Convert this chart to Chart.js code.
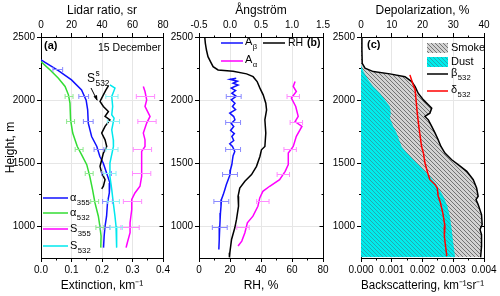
<!DOCTYPE html>
<html>
<head>
<meta charset="utf-8">
<script src="https://cdn.jsdelivr.net/npm/chart.js@4.4.0/dist/chart.umd.min.js"></script>
<style>
  body { margin: 0; background: #fff; width: 500px; height: 296px; position: relative; overflow: hidden; }
  canvas { position: absolute; top: 0; }
</style>
</head>
<body>
<canvas id="panelA" width="180" height="296" style="left:0px"></canvas>
<canvas id="panelB" width="180" height="296" style="left:160px"></canvas>
<canvas id="panelC" width="178" height="296" style="left:322px"></canvas>
<script>
// ---- tick labels ----
const heightTicks = [1000, 1500, 2000, 2500];
const extTicks = [0, 0.1, 0.2, 0.3, 0.4];
const lidarTicks = [0, 20, 40, 60, 80];
const rhTicks = [0, 20, 40, 60, 80];
const angTicks = [-0.5, 0, 0.5, 1.0, 1.5];
const bscTicks = [0, 0.001, 0.002, 0.003, 0.004];
const depTicks = [0, 10, 20, 30, 40];

// ---- panel (a): extinction and lidar ratio ----
const a355H = [2318, 2234, 2160, 2081, 2000, 1923, 1818, 1712, 1633, 1554, 1502, 1423, 1344, 1265, 1186, 1081, 1002, 923, 832];
const a355 = [0, 0.057, 0.10, 0.133, 0.148, 0.153, 0.155, 0.166, 0.183, 0.193, 0.204, 0.215, 0.226, 0.224, 0.218, 0.215, 0.21, 0.207, 0.205];
const a532H = [2305, 2239, 2174, 2108, 2042, 1976, 1844, 1739, 1633, 1568, 1489, 1396, 1291, 1186, 1081, 1002, 923, 832];
const a532 = [0, 0.03, 0.057, 0.079, 0.09, 0.095, 0.097, 0.104, 0.119, 0.133, 0.15, 0.16, 0.169, 0.177, 0.188, 0.193, 0.197, 0.196];
const s355H = [2108, 2068, 2002, 1950, 1897, 1871, 1818, 1739, 1686, 1633, 1594, 1502, 1396, 1318, 1265, 1213, 1134, 1029, 950, 871, 832];
const s355 = [67.1, 68.2, 69.3, 68.2, 70.4, 71.5, 69.3, 67.1, 68.2, 68.2, 66.0, 66.0, 66.0, 64.9, 61.6, 59.5, 59.5, 58.4, 58.4, 56.6, 55.8];
const s532H = [2121, 2095, 2029, 1950, 1884, 1858, 1765, 1686, 1633, 1502, 1396, 1291, 1186, 1081, 1002, 923, 832];
const s532 = [45.2, 48.5, 46.4, 47.0, 46.4, 47.9, 46.4, 47.4, 47.5, 45.2, 45.2, 46.4, 47.4, 48.5, 49.2, 49.6, 49.6];
const ss532H = [2113, 2081, 2042, 1989, 1950, 1910, 1871, 1844, 1792, 1739, 1686, 1633, 1581, 1528, 1476, 1423, 1370, 1318, 1297];
const ss532 = [44.2, 42.6, 40.9, 38.7, 40.9, 44.2, 42.0, 45.2, 42.0, 39.8, 42.0, 43.1, 40.9, 39.8, 38.7, 39.8, 42.0, 40.9, 39.8];

// error bars (a)
const a355ErrH = [2240, 2030, 1830, 1610, 1420, 1195, 990];
const a355ErrV = [0.055, 0.14, 0.155, 0.19, 0.215, 0.218, 0.21];
const a532ErrH = [2030, 1830, 1610, 1420, 1195, 990];
const a532ErrV = [0.092, 0.097, 0.125, 0.158, 0.176, 0.193];
const s355ErrH = [2030, 1830, 1610, 1420, 1195, 990];
const s355ErrV = [68.5, 69.5, 66.5, 66.0, 60.0, 58.4];
const s532ErrH = [2030, 1830, 1610, 1420, 1195, 990];
const s532ErrV = [46.5, 47.5, 46.5, 45.2, 47.4, 49.3];

// ---- panel (b): Angstrom exponents and RH ----
const rhH = [2500, 2450, 2397, 2344, 2305, 2265, 2239, 2229, 2208, 2186, 2147, 2095, 2042, 1976, 1923, 1844, 1739, 1633, 1607, 1554, 1476, 1410, 1357, 1304, 1239, 1160, 1055, 989, 897, 792, 755];
const rh = [3.7, 4.1, 4.8, 5.8, 7.4, 9.1, 12.3, 22, 30.7, 34.9, 37.5, 39.3, 41.4, 43.1, 43.6, 42.5, 43.1, 42.5, 40.3, 39.3, 37.1, 33.9, 29.6, 26.3, 25.2, 25.5, 24.2, 23.1, 21.0, 19.9, 19.6];
const aBetaH = [2174, 2165, 2150, 2134, 2120, 2095, 2075, 2055, 2030, 2002, 1975, 1950, 1925, 1897, 1870, 1844, 1815, 1792, 1760, 1735, 1713, 1680, 1655, 1633, 1594, 1560, 1528, 1490, 1449, 1410, 1370, 1330, 1291, 1250, 1213, 1160, 1107, 1050, 1002, 950, 897, 818];
const aBeta = [0.10, 0.0, 0.12, 0.05, 0.13, 0.02, 0.09, 0.03, 0.10, 0.02, 0.08, 0.04, 0.09, -0.004, 0.06, 0.08, 0.02, 0.06, 0.01, 0.07, 0.03, 0.06, -0.004, 0.04, 0.077, 0.05, 0.04, 0.03, 0.008, 0.0, -0.03, -0.06, -0.084, -0.11, -0.138, -0.145, -0.154, -0.16, -0.165, -0.17, -0.177, -0.18];
const aAlphaH = [2147, 2108, 2068, 2016, 1950, 1871, 1831, 1792, 1713, 1633, 1581, 1489, 1436, 1370, 1318, 1278, 1226, 1160, 1081, 1029, 950, 884, 845];
const aAlpha = [1.05, 1.02, 1.07, 0.99, 1.06, 1.10, 1.05, 1.16, 1.07, 1.02, 0.94, 0.94, 0.89, 0.80, 0.64, 0.53, 0.48, 0.45, 0.37, 0.28, 0.24, 0.19, 0.13];

// error bars (b)
const aBetaErrH = [2026, 1820, 1610, 1410, 1195, 990];
const aBetaErrV = [0.06, 0.05, 0.05, 0.0, -0.14, -0.165];
const aAlphaErrH = [2026, 1820, 1610, 1410, 1195, 990];
const aAlphaErrV = [1.02, 1.07, 0.97, 0.86, 0.53, 0.21];

// ---- panel (c): backscattering and depolarization ----
const bscH = [2500, 2397, 2292, 2253, 2226, 2208, 2186, 2147, 2108, 2055, 2002, 1963, 1937, 1897, 1871, 1844, 1792, 1739, 1686, 1633, 1581, 1528, 1489, 1436, 1370, 1304, 1239, 1213, 1173, 1094, 1015, 976, 936, 844, 755];
const bsc = [0.00003, 0.00003, 0.00004, 0.00013, 0.0004, 0.00094, 0.00143, 0.00165, 0.00176, 0.00186, 0.00203, 0.00219, 0.0023, 0.00224, 0.00208, 0.00219, 0.0023, 0.00241, 0.00251, 0.0026, 0.00273, 0.00295, 0.00316, 0.00344, 0.00365, 0.00376, 0.00381, 0.00374, 0.00381, 0.00392, 0.00394, 0.00387, 0.00392, 0.00392, 0.00389];
const dustH = [2500, 2279, 2226, 2160, 2108, 2055, 2002, 1950, 1897, 1858, 1792, 1739, 1633, 1581, 1528, 1462, 1396, 1331, 1239, 1160, 1081, 976, 871, 755];
const dust = [0, 0, 0.00008, 0.00024, 0.0004, 0.00062, 0.00078, 0.00094, 0.00097, 0.00094, 0.00105, 0.00116, 0.00132, 0.00149, 0.0017, 0.00197, 0.00224, 0.00246, 0.00268, 0.00281, 0.00289, 0.00295, 0.003, 0.00306];
const depH = [2200, 2134, 2081, 2002, 1897, 1792, 1686, 1633, 1581, 1502, 1423, 1370, 1331, 1304, 1239, 1199, 1107, 1002, 923, 844, 765];
const dep = [15.9, 16.8, 17.6, 17.9, 18.3, 18.8, 19.4, 19.7, 20.3, 20.8, 21.7, 22.4, 24.1, 24.8, 25.1, 25.7, 26.6, 27.3, 27.1, 27.5, 27.9];

const FONT = '"Liberation Sans", Arial, sans-serif';
Chart.defaults.font.family = FONT;
Chart.defaults.color = '#000';

const BLUE = '#1010ff', GREEN = '#33dd33', MAGENTA = '#ff00ff', CYAN = '#00e8ee', RED = '#ff0000';

function pts(hs, vs) { return hs.map((h, i) => ({ x: vs[i], y: h })); }

function hatch(bg, fg) {
  const c = document.createElement('canvas');
  c.width = c.height = 4;
  const g = c.getContext('2d');
  g.fillStyle = bg; g.fillRect(0, 0, 4, 4);
  g.strokeStyle = fg; g.lineWidth = 0.8;
  g.beginPath();
  g.moveTo(-1, -1); g.lineTo(5, 5);
  g.moveTo(-1, 3); g.lineTo(1, 5);
  g.moveTo(3, -1); g.lineTo(5, 1);
  g.stroke();
  return g.createPattern(c, 'repeat');
}
const smokeFill = hatch('#d2d2d2', '#5a5a5a');
const dustFill = hatch('#00ecec', '#2a9aa2');

function axis(pos, min, max, ticks, digits, title, size, gridOn) {
  return {
    type: 'linear', position: pos, min: min, max: max,
    afterBuildTicks: s => { s.ticks = ticks.map(v => ({ value: v })); },
    afterFit: s => { if (pos === 'left') s.width = size; else s.height = size; },
    ticks: { autoSkip: false, maxRotation: 0, padding: 2, font: { size: 10 }, callback: v => v.toFixed(digits) },
    grid: { drawOnChartArea: gridOn, color: '#e6e6e6', tickColor: '#000', tickLength: 4 },
    border: { color: '#000' },
    title: { display: !!title, text: title, font: { size: 12 }, padding: { top: 3, bottom: 3 } }
  };
}

function line(data, color, axisId, extra) {
  return Object.assign({ data: data, borderColor: color, xAxisID: axisId, yAxisID: 'y', borderWidth: 1.5, pointRadius: 0, fill: false }, extra || {});
}

// outer frame on the right plus minor ticks
const frame = {
  id: 'frame',
  afterDraw(chart) {
    const { ctx, chartArea: a, scales } = chart;
    const mids = arr => arr.slice(1).map((v, i) => (v + arr[i]) / 2);
    ctx.save();
    ctx.strokeStyle = '#000'; ctx.lineWidth = 1;
    ctx.beginPath();
    const r = Math.floor(a.right) + 0.5;
    ctx.moveTo(r, a.top); ctx.lineTo(r, a.bottom + 0.5);
    const yMaj = heightTicks;
    yMaj.forEach(v => { const p = Math.floor(scales.y.getPixelForValue(v)) + 0.5; ctx.moveTo(r, p); ctx.lineTo(r - 4, p); });
    mids(yMaj).forEach(v => {
      const p = Math.floor(scales.y.getPixelForValue(v)) + 0.5;
      ctx.moveTo(r, p); ctx.lineTo(r - 2, p);
      ctx.moveTo(a.left, p); ctx.lineTo(a.left - 2, p);
    });
    ['x', 'x2'].forEach(id => {
      const s = scales[id];
      const vals = s.ticks.map(t => t.value);
      const yEdge = id === 'x' ? Math.floor(a.bottom) + 0.5 : Math.floor(a.top) + 0.5;
      const dir = id === 'x' ? 1 : -1;
      mids(vals).forEach(v => {
        const p = Math.floor(s.getPixelForValue(v)) + 0.5;
        ctx.moveTo(p, yEdge); ctx.lineTo(p, yEdge + 2 * dir);
      });
    });
    ctx.stroke();
    ctx.restore();
  }
};

function write(ctx, x, y, text, size, bold, align) {
  ctx.font = (bold ? 'bold ' : '') + size + 'px ' + FONT;
  ctx.fillStyle = '#000'; ctx.textAlign = align || 'left'; ctx.textBaseline = 'middle';
  ctx.fillText(text, x, y);
  return ctx.measureText(text).width;
}
function withSub(ctx, x, y, main, sub, sup, size) {
  const w = write(ctx, x, y, main, size);
  if (sup) write(ctx, x + w + 0.5, y - size * 0.45, sup, size * 0.7);
  if (sub) write(ctx, x + w + 0.5, y + size * 0.4, sub, size * 0.7);
}
function seg(ctx, x1, x2, y, color) {
  ctx.strokeStyle = color; ctx.lineWidth = 1.5;
  ctx.beginPath(); ctx.moveTo(x1, y); ctx.lineTo(x2, y); ctx.stroke();
}

function extras(left, bars, notes) {
  return {
    id: 'extras',
    afterDatasetsDraw(chart) {
      const ctx = chart.ctx, ys = chart.scales.y;
      ctx.save();
      ctx.lineWidth = 1;
      bars.forEach(b => {
        const xs = chart.scales[b.axis];
        ctx.strokeStyle = b.color;
        ctx.beginPath();
        b.h.forEach((h, i) => {
          const py = Math.floor(ys.getPixelForValue(h)) + 0.5;
          const x1 = xs.getPixelForValue(b.v[i] - b.e), x2 = xs.getPixelForValue(b.v[i] + b.e);
          ctx.moveTo(x1, py); ctx.lineTo(x2, py);
          ctx.moveTo(x1, py - 2.5); ctx.lineTo(x1, py + 2.5);
          ctx.moveTo(x2, py - 2.5); ctx.lineTo(x2, py + 2.5);
        });
        ctx.stroke();
      });
      ctx.restore();
    },
    afterDraw(chart) {
      const ctx = chart.ctx;
      ctx.save();
      ctx.translate(-left, 0);
      notes(ctx);
      ctx.restore();
    }
  };
}

function panel(id, left, yWidth, padRight, yTitle, datasets, xBottom, xTop, bars, notes) {
  return new Chart(document.getElementById(id), {
    type: 'line',
    data: { datasets: datasets },
    options: {
      responsive: false, animation: false, indexAxis: 'y',
      layout: { padding: { left: 0, right: padRight, top: 0, bottom: 0 } },
      plugins: { legend: { display: false }, tooltip: { enabled: false } },
      scales: {
        x: xBottom,
        x2: xTop,
        y: axis('left', 750, 2500, heightTicks, 0, yTitle, yWidth, true)
      }
    },
    plugins: [frame, extras(left, bars, notes)]
  });
}

// panel (a)
panel('panelA', 0, 41, 17, 'Height, m',
  [
    line(pts(ss532H, ss532), '#000', 'x2'),
    line(pts(s532H, s532), CYAN, 'x2'),
    line(pts(s355H, s355), MAGENTA, 'x2'),
    line(pts(a532H, a532), GREEN, 'x'),
    line(pts(a355H, a355), BLUE, 'x')
  ],
  axis('bottom', 0, 0.4, extTicks, 1, 'Extinction, km⁻¹', 38, true),
  axis('top', 0, 80, lidarTicks, 0, 'Lidar ratio, sr', 37, false),
  [
    { axis: 'x', h: a355ErrH, v: a355ErrV, e: 0.016, color: '#8a8aff' },
    { axis: 'x', h: a532ErrH, v: a532ErrV, e: 0.013, color: '#90e890' },
    { axis: 'x2', h: s355ErrH, v: s355ErrV, e: 6, color: '#ff8cff' },
    { axis: 'x2', h: s532ErrH, v: s532ErrV, e: 4, color: '#8cf0f4' }
  ],
  ctx => {
    write(ctx, 44, 46, '(a)', 11, true);
    write(ctx, 161, 48, '15 December', 10.5, false, 'right');
    withSub(ctx, 87, 79, 'S', '532', 's', 12);
    ctx.strokeStyle = '#000'; ctx.lineWidth = 1;
    ctx.beginPath(); ctx.moveTo(91, 88); ctx.lineTo(97, 100); ctx.stroke();
    ctx.fillStyle = '#000';
    ctx.beginPath(); ctx.moveTo(97.5, 101); ctx.lineTo(93.5, 96.5); ctx.lineTo(97, 95); ctx.closePath(); ctx.fill();
    const rows = [[198, BLUE, 'α', '355'], [213, GREEN, 'α', '532'], [229, MAGENTA, 'S', '355'], [246, CYAN, 'S', '532']];
    rows.forEach(r => { seg(ctx, 43, 68, r[0], r[1]); withSub(ctx, 70, r[0], r[2], r[3], null, 11); });
  });

// panel (b)
panel('panelB', 160, 39, 17, '',
  [
    line(pts(rhH, rh), '#000', 'x'),
    line(pts(aAlphaH, aAlpha), MAGENTA, 'x2'),
    line(pts(aBetaH, aBeta), BLUE, 'x2')
  ],
  axis('bottom', 0, 80, rhTicks, 0, 'RH, %', 38, true),
  axis('top', -0.5, 1.5, angTicks, 1, 'Ångström', 37, false),
  [
    { axis: 'x2', h: aBetaErrH, v: aBetaErrV, e: 0.12, color: '#8a8aff' },
    { axis: 'x2', h: aAlphaErrH, v: aAlphaErrV, e: 0.1, color: '#ff8cff' }
  ],
  ctx => {
    seg(ctx, 221, 243, 43, BLUE); withSub(ctx, 245, 42, 'A', 'β', null, 11);
    seg(ctx, 263, 285, 43, '#000'); write(ctx, 288, 43, 'RH', 10.5);
    write(ctx, 307, 43, '(b)', 10.5, true);
    seg(ctx, 221, 243, 61, MAGENTA); withSub(ctx, 245, 60, 'A', 'α', null, 11);
  });

// panel (c)
panel('panelC', 322, 39, 16, '',
  [
    line(pts(depH, dep), RED, 'x2', { order: 1 }),
    line(pts(bscH, bsc), '#000', 'x', { order: 2 }),
    line(pts(dustH, dust), 'rgba(0,0,0,0)', 'x', { order: 3, borderWidth: 0, fill: 'origin', backgroundColor: dustFill }),
    line(pts(bscH, bsc), 'rgba(0,0,0,0)', 'x', { order: 4, borderWidth: 0, fill: 'origin', backgroundColor: smokeFill })
  ],
  axis('bottom', 0, 0.004, bscTicks, 3, 'Backscattering, km⁻¹sr⁻¹', 38, true),
  axis('top', 0, 40, depTicks, 0, 'Depolarization, %', 37, false),
  [],
  ctx => {
    write(ctx, 367, 45, '(c)', 11, true);
    ctx.fillStyle = smokeFill; ctx.fillRect(427, 43, 21, 10);
    write(ctx, 451, 48, 'Smoke', 11);
    ctx.fillStyle = dustFill; ctx.fillRect(427, 57, 21, 10);
    write(ctx, 451, 62, 'Dust', 11);
    seg(ctx, 427, 448, 74, '#000'); withSub(ctx, 451, 73, 'β', '532', null, 11);
    seg(ctx, 427, 448, 91, RED); withSub(ctx, 451, 90, 'δ', '532', null, 11);
  });
</script>
</body>
</html>
